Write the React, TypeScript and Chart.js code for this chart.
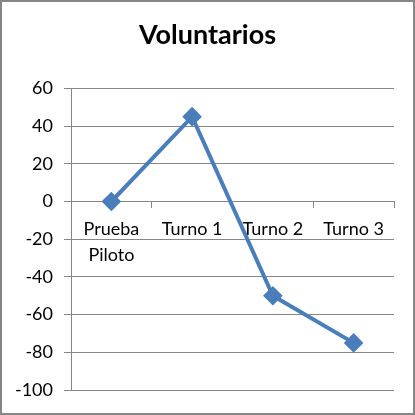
import { Chart, registerables } from 'chart.js';
import { useEffect, useRef } from 'react';

Chart.register(...registerables);

const categories = [['Prueba', 'Piloto'], 'Turno 1', 'Turno 2', 'Turno 3'];
const voluntarios = [0, 45, -50, -75];
const yMin = -100;
const yMax = 60;
const yStep = 20;

const GRAY = '#868686';
const BLUE = '#4A7EBB';

export default function App() {
    const chartRef = useRef<HTMLCanvasElement | null>(null);

    useEffect(() => {
        const myChart = new Chart(chartRef.current as HTMLCanvasElement, {
            type: 'line',
            data: {
                labels: categories,
                datasets: [{
                    label: 'Voluntarios',
                    data: voluntarios,
                    borderColor: BLUE,
                    backgroundColor: BLUE,
                    borderWidth: 4,
                    pointStyle: 'rectRot',
                    pointRadius: 7,
                    pointBackgroundColor: BLUE,
                    pointBorderColor: BLUE,
                    tension: 0,
                }],
            },
            options: {
                animation: false,
                responsive: true,
                maintainAspectRatio: false,
                layout: {
                    padding: { left: 0, right: 0, top: 0, bottom: 23 },
                },
                plugins: {
                    legend: { display: false },
                    tooltip: { enabled: false },
                    title: {
                        display: true,
                        text: 'Voluntarios',
                        color: '#000',
                        font: { family: 'Lato', size: 27, weight: 'bold', lineHeight: 1.2 },
                        padding: { top: 17, bottom: 37 },
                    },
                },
                scales: {
                    x: {
                        type: 'category',
                        position: { y: 0 },
                        offset: true,
                        grid: {
                            display: true,
                            drawOnChartArea: false,
                            offset: true,
                            tickLength: 6,
                            color: GRAY,
                        },
                        border: { display: true, color: GRAY },
                        ticks: {
                            color: '#000',
                            font: { family: 'Lato', size: 18, lineHeight: 1.45 },
                            padding: 9,
                            maxRotation: 0,
                            autoSkip: false,
                        },
                    },
                    y: {
                        min: yMin,
                        max: yMax,
                        afterFit: (scale) => {
                            scale.width = 69;
                        },
                        grid: {
                            color: GRAY,
                            tickLength: 7,
                        },
                        border: { display: true, color: GRAY },
                        ticks: {
                            stepSize: yStep,
                            color: '#000',
                            font: { family: 'Lato', size: 18 },
                            padding: 11,
                        },
                    },
                    // empty spacer on the right so the title stays centred on the picture
                    spacer: {
                        type: 'linear',
                        position: 'right',
                        grid: { display: false },
                        border: { display: false },
                        ticks: { display: false },
                        afterFit: (scale) => {
                            scale.width = 19;
                        },
                    },
                },
            },
        });

        return () => {
            myChart.destroy();
        };
    }, []);

    return (
        <div style={{
            position: 'fixed', left: 0, top: 0, width: 415, height: 415,
            boxSizing: 'border-box', border: `2px solid ${GRAY}`, background: '#fff',
        }}>
            <div style={{ position: 'relative', width: 411, height: 411 }}>
                <canvas ref={chartRef}></canvas>
            </div>
        </div>
    );
}
